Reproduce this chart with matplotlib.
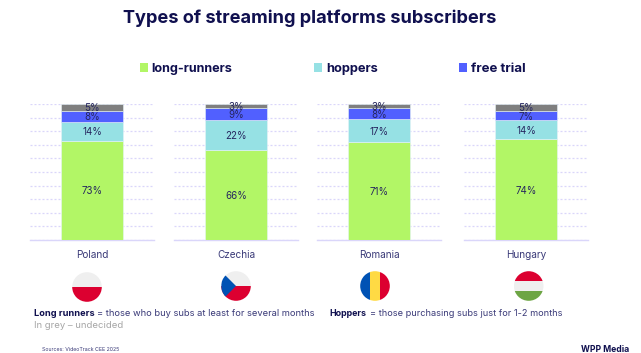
import matplotlib
matplotlib.use("Agg")
import matplotlib.pyplot as plt
from matplotlib.patches import Circle, Rectangle, Polygon

W, H = 641, 353
plt.rcParams['font.family'] = ['Inter', 'Open Sans', 'DejaVu Sans']

countries = ["Poland", "Czechia", "Romania", "Hungary"]
long_runners = [73, 66, 71, 74]
hoppers = [14, 22, 17, 14]
free_trial = [8, 9, 8, 7]
undecided = [5, 3, 3, 5]
series_names = ["long-runners", "hoppers", "free trial", "undecided"]
colors = ["#B2F666", "#96E1E4", "#5160FF", "#7F7F7F"]

NAVY = "#10104F"
LABEL = "#3A3A78"
GRID = "#DAD6FA"

panel_left = [30, 174, 317, 464]
panel_width = 124
bar_px = 62
y_top, y_bot = 104, 240

fig = plt.figure(figsize=(W / 100, H / 100), dpi=100, facecolor="white")

for i, name in enumerate(countries):
    ax = fig.add_axes([panel_left[i] / W, 1 - y_bot / H, panel_width / W, (y_bot - y_top) / H])
    vals = [long_runners[i], hoppers[i], free_trial[i], undecided[i]]
    total = sum(vals)
    bottom = 0
    for v, c, s in zip(vals, colors, series_names):
        share = v / total * 100
        ax.bar(0, share, bottom=bottom, width=bar_px / panel_width, color=c,
               edgecolor="#E6F3F7", linewidth=0.4, zorder=3, label=s)
        ax.text(0, bottom + share / 2, f"{v}%", ha="center", va="center_baseline",
                fontsize=7.0, color="#26265F", zorder=4)
        bottom += share
    ax.set_xlim(-0.5, 0.5)
    ax.set_ylim(0, 100)
    ax.set_yticks(range(0, 101, 10))
    ax.set_xticks([0])
    ax.set_xticklabels([name], fontsize=7.2, color=LABEL)
    ax.tick_params(axis="both", length=0, labelleft=False, pad=7)
    ax.grid(axis="y", color=GRID, linewidth=0.9, linestyle=(0, (1.6, 1.6)), zorder=0)
    ax.set_axisbelow(True)
    for sp in ("top", "left", "right"):
        ax.spines[sp].set_visible(False)
    ax.spines["bottom"].set_color(GRID)
    ax.spines["bottom"].set_linewidth(1.0)

renderer = fig.canvas.get_renderer()


def fit(t, width_px):
    """Scale a text's font size so that it spans the wanted width."""
    w = t.get_window_extent(renderer).width
    t.set_fontsize(t.get_fontsize() * width_px / w)
    return t


ov = fig.add_axes([0, 0, 1, 1], facecolor="none")
ov.set_xlim(0, W)
ov.set_ylim(H, 0)
ov.axis("off")

fit(ov.text(123.3, 23.3, "Types of streaming platforms subscribers", ha="left", va="baseline",
            fontsize=14, fontweight="bold", color=NAVY), 374.5)

# legend: key and label laid out to share one baseline
legend_keys = [139.7, 314, 459]
legend_text_x = [151.3, 326, 470.7]
legend_text_w = [81.7, 52.7, 54.6]
for s, c, kx, tx, tw in zip(series_names[:3], colors[:3], legend_keys, legend_text_x, legend_text_w):
    ov.add_patch(Rectangle((kx, 63.3), 8.2, 8.4, fc=c, ec="none"))
    fit(ov.text(tx, 72, s, fontsize=9.5, fontweight="bold", color=NAVY, va="baseline"), tw)


def flag(cx, cy, r, draw):
    clip = Circle((cx, cy), r, transform=ov.transData)
    for p in draw(cx, cy, r):
        ov.add_patch(p)
        p.set_clip_path(clip)


RED = "#DC0030"
WHITE = "#EFEFEF"


def poland(cx, cy, r):
    return [Rectangle((cx - r, cy - r), 2 * r, r, fc=WHITE, ec="none"),
            Rectangle((cx - r, cy), 2 * r, r, fc=RED, ec="none")]


def czechia(cx, cy, r):
    return [Rectangle((cx - r, cy - r), 2 * r, r, fc=WHITE, ec="none"),
            Rectangle((cx - r, cy), 2 * r, r, fc=RED, ec="none"),
            Polygon([(cx - r, cy - r), (cx, cy), (cx - r, cy + r)], closed=True,
                    fc="#0052B4", ec="none")]


def romania(cx, cy, r):
    w = 2 * r / 3
    return [Rectangle((cx - r, cy - r), w, 2 * r, fc="#0052B4", ec="none"),
            Rectangle((cx - r + w, cy - r), w, 2 * r, fc="#FFDA44", ec="none"),
            Rectangle((cx - r + 2 * w, cy - r), w, 2 * r, fc=RED, ec="none")]


def hungary(cx, cy, r):
    h = 2 * r / 3
    return [Rectangle((cx - r, cy - r), 2 * r, h, fc=RED, ec="none"),
            Rectangle((cx - r, cy - r + h), 2 * r, h, fc=WHITE, ec="none"),
            Rectangle((cx - r, cy - r + 2 * h), 2 * r, h, fc="#6DA544", ec="none")]


flag(87, 287, 14.8, poland)
flag(236, 286, 14.8, czechia)
flag(375, 286, 14.8, romania)
flag(528.7, 286, 14.8, hungary)

fs = 7
fit(ov.text(34.5, 314, "Long runners", fontsize=fs, fontweight="bold", color=NAVY, va="center"), 60)
fit(ov.text(97, 314, "= those who buy subs at least for several months", fontsize=fs, color=LABEL, va="center"), 217)
fit(ov.text(34.5, 325.5, "In grey \u2013 undecided", fontsize=fs, color="#A6A6A6", va="center"), 89)
fit(ov.text(329.5, 314, "Hoppers", fontsize=fs, fontweight="bold", color=NAVY, va="center"), 37)
fit(ov.text(370.5, 314, "= those purchasing subs just for 1-2 months", fontsize=fs, color=LABEL, va="center"), 191.5)
fit(ov.text(42.5, 349.5, "Sources: VideoTrack CEE 2025", fontsize=4, color=LABEL, va="center"), 77.5)
fit(ov.text(629.5, 349.5, "WPP Media", fontsize=6.5, fontweight="bold", color=NAVY, va="center", ha="right"), 48)

fig.savefig("out.png", dpi=100, facecolor="white")
